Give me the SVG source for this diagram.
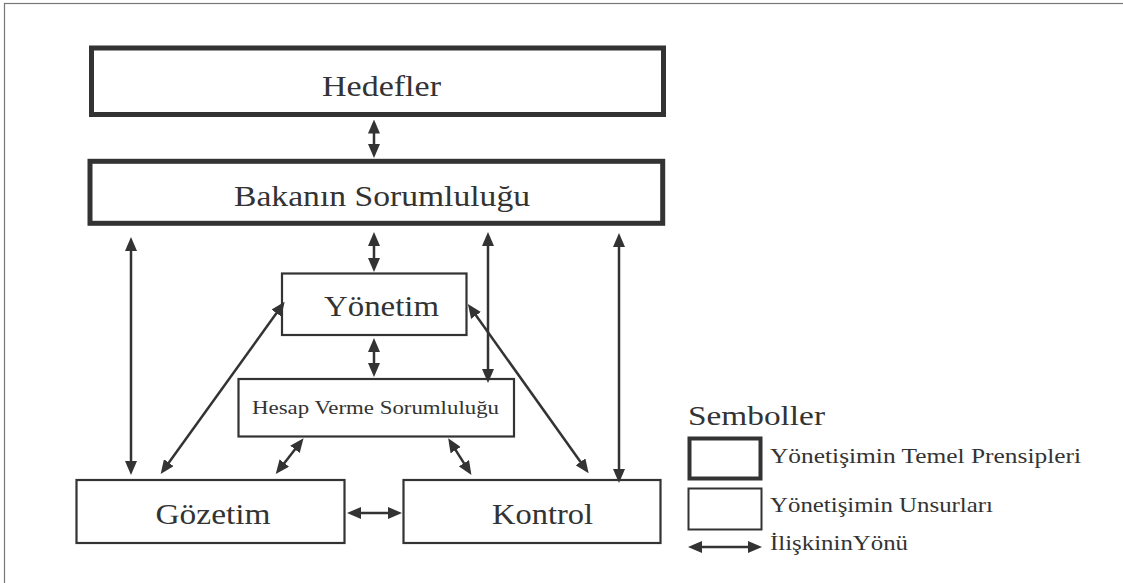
<svg xmlns="http://www.w3.org/2000/svg" width="1123" height="583" viewBox="0 0 1123 583">
<defs>
<marker id="ah" markerUnits="userSpaceOnUse" markerWidth="14" markerHeight="12" refX="10" refY="6" orient="auto-start-reverse" viewBox="0 0 14 12">
<path d="M0,0 L14,6 L0,12 z" fill="#333"/>
</marker>
<style>
.thick{fill:#fff;stroke:#333;stroke-width:5}
.thin{fill:#fff;stroke:#333;stroke-width:2.2}
.lbl{font-family:"Liberation Serif",serif;fill:#333;text-anchor:start}
.c line{stroke:#333;stroke-width:2.5;marker-start:url(#ah);marker-end:url(#ah)}
</style>
</defs>
<rect x="0" y="0" width="1123" height="583" fill="#fff"/>
<rect x="4.5" y="3.5" width="1130" height="600" fill="none" stroke="#777" stroke-width="1.2"/>

<g id="hedefler">
<rect class="thick" x="91.5" y="48" width="572" height="66.5"/>
<text class="lbl" x="322" y="96" font-size="30" textLength="119" lengthAdjust="spacingAndGlyphs">Hedefler</text>
</g>
<g id="bakanin">
<rect class="thick" x="90" y="161.3" width="572.7" height="62"/>
<text class="lbl" x="234" y="206" font-size="30" textLength="296" lengthAdjust="spacingAndGlyphs">Bakanın Sorumluluğu</text>
</g>
<g id="yonetim">
<rect class="thin" x="282" y="273.5" width="184.5" height="61.5"/>
<text class="lbl" x="324" y="316" font-size="30" textLength="115" lengthAdjust="spacingAndGlyphs">Yönetim</text>
</g>
<g id="hesap">
<rect class="thin" x="238.5" y="379" width="275.5" height="57.5"/>
<text class="lbl" x="252" y="414" font-size="19" textLength="247" lengthAdjust="spacingAndGlyphs">Hesap Verme Sorumluluğu</text>
</g>
<g id="gozetim">
<rect class="thin" x="76.5" y="480" width="268" height="63"/>
<text class="lbl" x="155.5" y="524" font-size="30" textLength="115" lengthAdjust="spacingAndGlyphs">Gözetim</text>
</g>
<g id="kontrol">
<rect class="thin" x="403.5" y="480" width="257" height="63"/>
<text class="lbl" x="492" y="524" font-size="30" textLength="101" lengthAdjust="spacingAndGlyphs">Kontrol</text>
</g>

<g id="connectors" class="c">
<line x1="374" y1="123.5" x2="374" y2="154"/>
<line x1="131" y1="241" x2="131" y2="471"/>
<line x1="374" y1="236" x2="374" y2="268"/>
<line x1="488" y1="236" x2="488" y2="379"/>
<line x1="619" y1="237" x2="619" y2="479"/>
<line x1="374" y1="342" x2="374" y2="373"/>
<line x1="282.3" y1="305" x2="163" y2="470.8"/>
<line x1="470.2" y1="307.3" x2="586.3" y2="470"/>
<line x1="301.1" y1="441.5" x2="278.2" y2="470.9"/>
<line x1="450.3" y1="441.7" x2="469.3" y2="471.6"/>
<line x1="351" y1="513" x2="398" y2="513"/>
</g>

<g id="legend">
<text class="lbl" x="688" y="425" font-size="28" textLength="137" lengthAdjust="spacingAndGlyphs">Semboller</text>
<rect x="689.5" y="438.5" width="71" height="40" fill="#fff" stroke="#333" stroke-width="4"/>
<text class="lbl" x="770" y="463" font-size="21" textLength="311" lengthAdjust="spacingAndGlyphs">Yönetişimin Temel Prensipleri</text>
<rect x="688.5" y="488.5" width="73" height="41" fill="#fff" stroke="#333" stroke-width="2"/>
<text class="lbl" x="770" y="512" font-size="21" textLength="223" lengthAdjust="spacingAndGlyphs">Yönetişimin Unsurları</text>
<g class="c"><line x1="692" y1="547" x2="758" y2="547"/></g>
<text class="lbl" x="770" y="550" font-size="21" textLength="138" lengthAdjust="spacingAndGlyphs">İlişkininYönü</text>
</g>
</svg>
